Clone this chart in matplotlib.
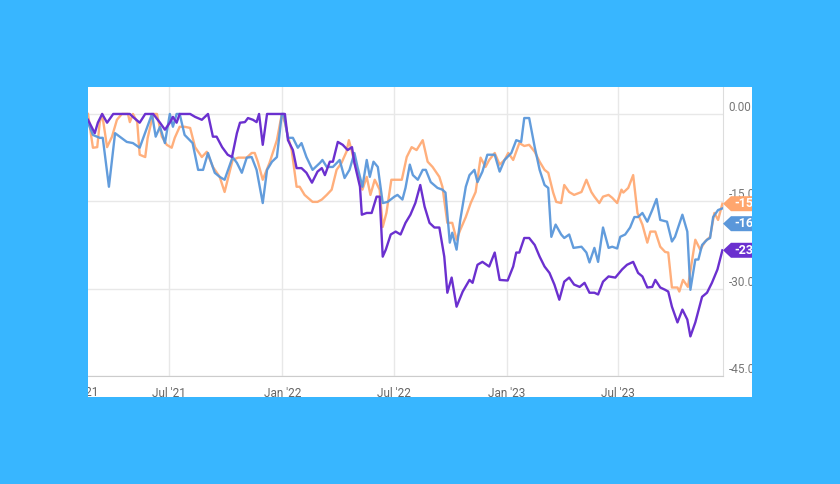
import pandas as pd
import matplotlib
matplotlib.use("Agg")
import matplotlib.pyplot as plt
from matplotlib.patches import Rectangle, Polygon
from matplotlib.transforms import IdentityTransform

# dias desde 2021-01-01 y valores (drawdown %)
start = pd.Timestamp("2021-01-01")

orange_days = [49, 57, 64, 68, 72, 80, 88, 96, 104, 114, 117, 122, 129, 133, 142, 146, 155, 161, 169, 177,
               185, 190, 198, 206, 215, 223, 234, 242, 252, 263, 271, 276, 284, 293, 307, 315, 320, 325, 333, 344,
               356, 364, 369, 374, 380, 388, 393, 401, 414, 422, 429, 437, 445, 453, 461, 469, 473, 478, 482, 491,
               495, 502, 508, 515, 523, 528, 534, 542, 559, 567, 575, 583, 593, 601, 609, 620, 625, 633, 641, 648,
               654, 663, 671, 679, 687, 695, 701, 710, 718, 726, 732, 740, 750, 758, 766, 775, 783, 791, 797, 805,
               810, 818, 823, 831, 839, 851, 859, 867, 872, 880, 886, 895, 901, 909, 916, 919, 927, 935, 942, 950,
               958, 963, 971, 979, 987, 992, 998, 1007, 1010, 1016, 1024, 1036, 1044, 1052, 1060, 1067, 1073, 1080]
orange_vals = [0.0, -5.8, -5.7, -1.5, 0.0, -5.7, -3.9, -1.0, 0.0, 0.0, -1.4, 0.0, -1.4, -7.0, -7.4, -4.1, 0.0, 0.0, -3.9, -5.3,
               -5.8, -4.1, -2.2, -2.2, -2.4, -5.7, -7.4, -6.5, -9.1, -10.8, -13.4, -11.3, -7.9, -7.5, -7.5, -6.7, -6.7, -8.2, -11.3, -8.4,
               -4.5, 0.0, -1.5, -3.9, -6.2, -12.5, -12.5, -13.9, -15.1, -15.1, -14.7, -13.9, -13.0, -9.6, -8.4, -6.5, -4.5, -6.5, -8.4, -11.3,
               -13.0, -10.8, -13.9, -11.3, -13.0, -19.4, -17.0, -11.3, -11.3, -7.4, -5.7, -6.2, -4.5, -8.2, -9.1, -10.8, -12.5, -18.7, -18.7, -21.6,
               -19.9, -17.7, -15.3, -13.4, -7.5, -9.1, -7.9, -6.7, -8.7, -7.9, -6.7, -7.9, -5.0, -5.5, -5.3, -6.5, -8.2, -9.6, -10.1, -13.5,
               -15.1, -15.3, -12.2, -13.4, -13.9, -13.4, -11.3, -13.4, -14.2, -15.3, -14.2, -13.9, -14.4, -15.3, -13.0, -13.5, -12.7, -10.5, -17.0, -19.0,
               -22.1, -20.2, -20.2, -22.8, -23.7, -23.8, -29.8, -29.8, -30.5, -28.5, -29.7, -21.6, -23.3, -21.9, -21.1, -17.0, -18.2, -15.41]

blue_days = [49, 57, 68, 73, 83, 93, 112, 122, 133, 153, 159, 166, 174, 182, 187, 193, 198, 206, 219, 228,
             236, 244, 255, 263, 271, 284, 291, 299, 307, 315, 323, 333, 340, 348, 356, 364, 367, 374, 382, 390,
             396, 404, 414, 426, 430, 437, 447, 458, 466, 474, 482, 487, 495, 502, 507, 513, 520, 528, 536, 547,
             552, 560, 565, 572, 577, 585, 593, 598, 606, 617, 625, 630, 637, 641, 648, 654, 663, 669, 677, 682,
             690, 698, 710, 718, 726, 737, 745, 753, 758, 766, 775, 783, 791, 797, 802, 809, 818, 823, 831, 838,
             851, 859, 864, 872, 878, 886, 895, 901, 909, 914, 922, 930, 937, 943, 950, 958, 966, 973, 979, 990,
             998, 1003, 1015, 1023, 1028, 1036, 1041, 1047, 1055, 1060, 1065, 1073, 1080]
blue_vals = [-1.5, -3.6, -4.1, -4.1, -12.5, -3.3, -4.8, -5.0, -5.8, 0.0, -3.9, -2.2, -5.0, 0.0, -2.2, 0.0, 0.0, -3.6, -5.0, -9.6,
             -9.6, -6.7, -10.1, -10.8, -11.3, -7.4, -8.4, -10.1, -7.5, -7.4, -9.6, -15.3, -9.6, -8.2, -7.4, 0.0, 0.0, -4.1, -4.1, -5.8,
             -5.0, -7.4, -9.6, -8.4, -7.9, -9.1, -9.1, -7.9, -11.0, -9.6, -6.7, -9.1, -12.5, -7.9, -10.8, -8.2, -9.1, -15.3, -15.1, -14.2,
             -13.9, -14.7, -12.7, -8.7, -10.5, -11.3, -9.6, -9.6, -11.7, -12.7, -13.0, -13.5, -22.1, -20.4, -23.3, -18.2, -12.5, -10.5, -9.6, -11.7,
             -9.9, -7.0, -7.0, -9.9, -7.9, -6.7, -4.5, -4.8, -0.7, -0.7, -5.7, -9.6, -12.2, -12.7, -21.1, -19.0, -20.7, -21.3, -20.7, -23.0,
             -22.8, -23.8, -25.5, -23.0, -25.4, -19.5, -23.0, -22.8, -23.1, -21.1, -20.7, -19.5, -17.7, -17.7, -17.0, -18.5, -16.5, -14.6, -18.2, -18.5,
             -21.9, -21.1, -17.3, -20.2, -30.2, -25.0, -25.0, -22.5, -21.6, -21.3, -17.7, -16.5, -16.22]

purple_days = [49, 60, 65, 72, 80, 90, 117, 122, 133, 142, 155, 166, 174, 182, 187, 193, 198, 215, 223, 234,
               244, 252, 258, 267, 276, 283, 291, 296, 304, 309, 317, 323, 327, 333, 340, 369, 374, 382, 388, 396,
               404, 413, 422, 429, 434, 442, 447, 455, 463, 471, 478, 482, 491, 494, 502, 510, 518, 523, 528, 533,
               541, 549, 557, 565, 573, 581, 589, 596, 604, 612, 620, 628, 633, 640, 648, 658, 669, 674, 682, 690,
               701, 710, 718, 731, 740, 745, 750, 758, 766, 775, 783, 791, 799, 807, 815, 823, 831, 839, 848, 856,
               864, 872, 878, 886, 895, 906, 917, 925, 935, 943, 950, 958, 966, 971, 979, 987, 992, 998, 1007, 1015,
               1023, 1028, 1036, 1047, 1055, 1063, 1072, 1080]
purple_vals = [-1.0, -3.3, -1.5, 0.0, -1.5, 0.0, 0.0, -0.5, -1.5, 0.0, 0.0, -1.5, -2.7, -1.5, -0.5, -1.5, 0.0, 0.0, -0.5, -1.0,
               0.0, -3.9, -3.9, -5.7, -7.0, -7.4, -3.3, -1.5, -1.4, -0.7, -1.0, -1.4, 0.0, -5.3, 0.0, 0.0, -4.5, -6.2, -9.3, -9.3,
               -10.1, -11.8, -9.9, -9.3, -10.5, -8.2, -8.2, -4.8, -5.3, -6.2, -5.7, -8.4, -12.5, -17.3, -17.0, -17.0, -14.2, -14.2, -24.5, -23.3,
               -20.7, -20.2, -20.7, -18.7, -17.3, -15.3, -12.2, -15.9, -18.7, -19.5, -19.5, -24.5, -30.7, -28.1, -33.1, -30.5, -28.5, -29.0, -25.9, -25.4,
               -26.2, -23.8, -28.5, -28.6, -26.2, -23.8, -23.8, -21.3, -21.3, -22.5, -24.5, -26.2, -27.3, -29.3, -31.9, -28.8, -28.1, -29.3, -29.7, -29.0,
               -30.7, -30.7, -31.0, -28.8, -27.9, -28.1, -26.7, -25.9, -25.4, -27.3, -27.9, -29.8, -29.7, -28.5, -29.8, -30.2, -30.5, -33.1, -35.8, -33.6,
               -35.3, -38.2, -35.8, -31.4, -30.7, -29.0, -26.7, -23.41]

y_ticks = [0, -15, -30, -45]
y_labels = ["0.00", "-15.0", "-30.0", "-45.0"]
x_ticks = ["2021-07-01", "2022-01-01", "2022-07-01", "2023-01-01", "2023-07-01"]
x_labels = ["Jul '21", "Jan '22", "Jul '22", "Jan '23", "Jul '23"]

ORANGE = "#FFA66E"
BLUE = "#5A97DA"
PURPLE = "#6B30CF"
BG = "#38B6FF"

W, H = 840, 484
plt.rcParams['font.family'] = ['Roboto', 'DejaVu Sans']

fig = plt.figure(figsize=(W / 100, H / 100), dpi=100)
fig.patch.set_facecolor(BG)

# panel blanco
px0, py0, px1, py1 = 88, 87, 752, 397
fig.patches.append(Rectangle((px0 / W, 1 - py1 / H), (px1 - px0) / W, (py1 - py0) / H,
                             transform=fig.transFigure, facecolor="white", edgecolor="none", zorder=-1))

ax = fig.add_axes([88 / W, 1 - 376 / H, (723 - 88) / W, (376 - 87) / H])
ax.set_facecolor("none")


def to_dates(days):
    return start + pd.to_timedelta(days, unit="D")


ax.plot(to_dates(orange_days), orange_vals, color=ORANGE, lw=1.7, alpha=0.9, zorder=3)
ax.plot(to_dates(blue_days), blue_vals, color=BLUE, lw=1.7, alpha=0.95, zorder=4)
ax.plot(to_dates(purple_days), purple_vals, color=PURPLE, lw=1.7, zorder=5)

ax.set_xlim(start + pd.Timedelta(days=49), start + pd.Timedelta(days=1081))
ax.set_ylim(-45, 4.63)

ax.set_xticks(pd.to_datetime(x_ticks))
ax.set_xticklabels(x_labels)
ax.set_yticks(y_ticks)
ax.set_yticklabels(y_labels)
ax.yaxis.tick_right()
ax.tick_params(axis="both", length=0, colors="#666666", labelsize=8.5)
ax.tick_params(axis="x", pad=8)
ax.tick_params(axis="y", pad=4)
for lbl in ax.get_yticklabels():
    lbl.set_va("bottom")
    lbl.set_color("#777777")

ax.grid(True, color="#E8E8E8", lw=1)
ax.set_axisbelow(True)
for s in ["top", "left"]:
    ax.spines[s].set_visible(False)
ax.spines["right"].set_color("#DDDDDD")
ax.spines["bottom"].set_color("#CCCCCC")

# etiqueta Jan '21 (el panel la corta, solo se ve "'21")
ax.text(0.016, -0.057, "Jan '21", transform=ax.transAxes, ha="right", va="center",
        fontsize=8.5, color="#666666", clip_on=False)

# etiquetas finales (tags)
tags = [(orange_vals[-1], ORANGE), (blue_vals[-1], BLUE), (purple_vals[-1], PURPLE)]
xr = ax.transAxes.transform((1, 0))[0]
last_y = None
for v, c in sorted(tags, key=lambda t: -t[0]):
    yd = ax.transData.transform((0, v))[1]
    if last_y is not None and last_y - yd < 20:
        yd = last_y - 20
    last_y = yd
    pts = [(xr, yd), (xr + 8, yd + 7.5), (xr + 45, yd + 7.5), (xr + 45, yd - 7.5), (xr + 8, yd - 7.5)]
    fig.patches.append(Polygon(pts, closed=True, transform=IdentityTransform(),
                               facecolor=c, edgecolor="none", zorder=6))
    fig.text(xr + 11, yd, f"{v:.2f}", transform=IdentityTransform(), color="white",
             fontsize=9, fontweight="bold", va="center", ha="left", zorder=7)

# mascara azul fuera del panel
for (x0, y0, x1, y1) in [(0, 0, W, py0), (0, py1, W, H), (0, 0, px0, H), (px1, 0, W, H)]:
    fig.patches.append(Rectangle((x0 / W, 1 - y1 / H), (x1 - x0) / W, (y1 - y0) / H,
                                 transform=fig.transFigure, facecolor=BG, edgecolor="none", zorder=10))

fig.savefig("out.png", dpi=100, facecolor=BG)
